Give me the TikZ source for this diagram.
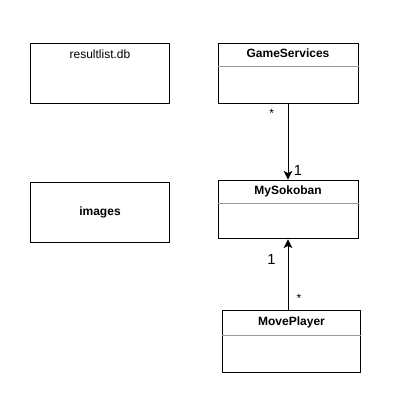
\documentclass[tikz,border=0pt]{standalone}
\usepackage{fontspec}
\setmainfont{Liberation Sans}
\usepackage{tikz}
\usetikzlibrary{calc}
\usetikzlibrary{arrows.meta}
\tikzset{every edge/.style={draw, line width=0.75pt}}
\tikzset{classbox/.style={draw, line width=0.75pt, minimum width=104pt, minimum height=45pt, inner sep=0pt}}
\tikzset{divider/.style={draw=gray!80, line width=0.6pt}}
\tikzset{mult/.style={font=\fontsize{11}{13}\selectfont, inner sep=1pt}}

\begin{document}
\begin{tikzpicture}[x=0.75pt, y=-0.75pt, font=\fontsize{9}{11}\selectfont, >={Stealth[length=6.5pt, width=6.5pt, inset=1.5pt]}]
    \useasboundingbox (0,0) rectangle (407,405);

    \node[classbox] at (100, 73) (res) {};
    \node at ($(res.north)+(0,12)$) (restitle) {resultlist.db};
    \node[classbox] at (100, 212.5) (img) {\bfseries images};

    \node[classbox, minimum width=105pt] at (288, 73) (gs) {};
    \node[font=\fontsize{9}{11}\selectfont\bfseries] at ($(gs.north)+(0,11)$) (gstitle) {GameServices};
    \draw[divider] ($(gs.north west)+(0,24)$) -- ($(gs.north east)+(0,24)$);

    \node[classbox, minimum width=105pt, minimum height=44pt] at (288, 209.5) (mys) {};
    \node[font=\fontsize{9}{11}\selectfont\bfseries] at ($(mys.north)+(0,12)$) (mystitle) {MySokoban};
    \draw[divider] ($(mys.north west)+(0,24)$) -- ($(mys.north east)+(0,24)$);

    \node[classbox, minimum height=46pt] at (291.5, 341.5) (mp) {};
    \node[font=\fontsize{9}{11}\selectfont\bfseries] at ($(mp.north)+(0,12)$) (mptitle) {MovePlayer};
    \draw[divider] ($(mp.north west)+(0,25)$) -- ($(mp.north east)+(0,25)$);

    % associations
    \draw (gs.south) edge[->] node[pos=0.13, left=9pt, inner sep=1pt] (gsstar) {*} node[pos=0.88, right=3pt, mult] (gsone) {1} (mys.north);
    \draw (mp.north -| mys.south) edge[->] node[pos=0.17, right=5pt, fill=white, inner sep=1pt] (mpstar) {*} node[pos=0.72, left=8pt, mult] (mpone) {1} (mys.south);
\end{tikzpicture}
\end{document}
